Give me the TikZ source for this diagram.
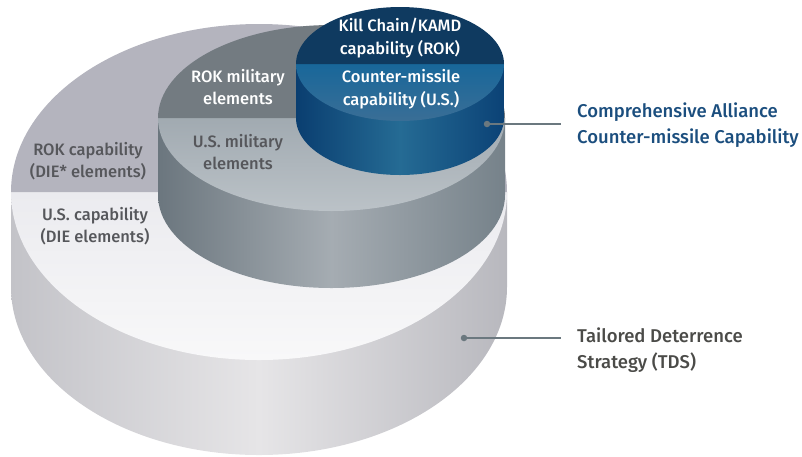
\documentclass[tikz,border=0pt]{standalone}
\usepackage{fontspec}
\setmainfont{Fira Sans Medium}
\usetikzlibrary{calc}
\definecolor{outerTop}{HTML}{B4B4BE}
\definecolor{outerLowA}{HTML}{EBEBEF}
\definecolor{outerLowB}{HTML}{F8F8F9}
\definecolor{outerEdgeL}{HTML}{C3C3C8}
\definecolor{outerMid}{HTML}{E6E5E7}
\definecolor{outerEdgeR}{HTML}{B8B8BE}
\definecolor{midTop}{HTML}{737B81}
\definecolor{midLowA}{HTML}{A1AAB1}
\definecolor{midLowB}{HTML}{BBC2C7}
\definecolor{midEdgeL}{HTML}{6B767E}
\definecolor{midMid}{HTML}{A5ACB2}
\definecolor{midEdgeR}{HTML}{76828A}
\definecolor{blueTop}{HTML}{0F3A60}
\definecolor{blueLowA}{HTML}{18679A}
\definecolor{blueLowB}{HTML}{3A6E96}
\definecolor{blueEdgeL}{HTML}{0A3E70}
\definecolor{blueMid}{HTML}{256B94}
\definecolor{blueEdgeR}{HTML}{0B4276}
\definecolor{darkText}{HTML}{56575B}
\definecolor{blueText}{HTML}{1B4E7E}
\definecolor{tdsText}{HTML}{4B4B48}
\definecolor{leader}{HTML}{6B787F}
\tikzset{
  innerlabel/.style={align=center, font=\fontsize{16.5}{22.5}\selectfont, inner sep=0pt},
  sidelabel/.style={align=left, anchor=west, font=\fontsize{18.5}{26.5}\selectfont, inner sep=0pt},
  leaderdot/.style={circle, fill=leader, minimum size=6.5pt, inner sep=0pt},
  leaderline/.style={draw=leader, line width=1.6pt}
}
\begin{document}
\begin{tikzpicture}[x=1pt,y=-1pt]
\useasboundingbox (0,0) rectangle (802,456);
% ---- outer cylinder: cx=259, rx=248, top cy=192, bottom cy=287, ry=168
\shade[left color=outerEdgeL, right color=outerEdgeR, middle color=outerMid]
  (11,192) -- (11,287) arc (180:360:248pt and 168pt) -- (507,192) -- cycle;
\shade[top color=outerLowA, bottom color=outerLowB]
  (11,192) arc (180:360:248pt and 168pt) -- cycle;
\fill[outerTop] (11,192) arc (180:0:248pt and 168pt) -- cycle;
% ---- middle cylinder: cx=331.5, rx=173.5, top cy=118, bottom cy=195, ry=93
\shade[left color=midEdgeL, right color=midEdgeR, middle color=midMid]
  (158,118) -- (158,195) arc (180:360:173.5pt and 93pt) -- (505,118) -- cycle;
\shade[top color=midLowA, bottom color=midLowB]
  (158,118) arc (180:360:173.5pt and 93pt) -- cycle;
\fill[midTop] (158,118) arc (180:0:173.5pt and 93pt) -- cycle;
% ---- blue cylinder: cx=400, rx=104, top cy=64, bottom cy=118, ry=57
\shade[left color=blueEdgeL, right color=blueEdgeR, middle color=blueMid]
  (296,64) -- (296,118) arc (180:360:104pt and 57pt) -- (504,64) -- cycle;
\shade[top color=blueLowA, bottom color=blueLowB]
  (296,64) arc (180:360:104pt and 57pt) -- cycle;
\fill[blueTop] (296,64) arc (180:0:104pt and 57pt) -- cycle;
% ---- labels
\node[innerlabel, text=white] (kc) at (400,38) {Kill Chain/KAMD\\capability (ROK)};
\node[innerlabel, text=white] (cm) at (401,89) {Counter-missile\\capability (U.S.)};
\node[innerlabel, text=white] (rm) at (238,87) {ROK military\\elements};
\node[innerlabel, text=darkText] (um) at (238,152) {U.S. military\\elements};
\node[innerlabel, text=darkText] (rc) at (88,161) {ROK capability\\(DIE* elements)};
\node[innerlabel, text=darkText] (uc) at (95,226) {U.S. capability\\(DIE elements)};
% ---- leaders
\node[leaderdot] (d1) at (487,124) {};
\coordinate (e1) at (561,124);
\draw[leaderline] (d1.center) -- (e1);
\node[sidelabel, text=blueText] (t1) at (577,125) {Comprehensive Alliance\\Counter-missile Capability};
\node[leaderdot] (d2) at (464,338) {};
\coordinate (e2) at (561,338);
\draw[leaderline] (d2.center) -- (e2);
\node[sidelabel, text=tdsText] (t2) at (577,350) {Tailored Deterrence\\Strategy (TDS)};
\end{tikzpicture}
\end{document}
